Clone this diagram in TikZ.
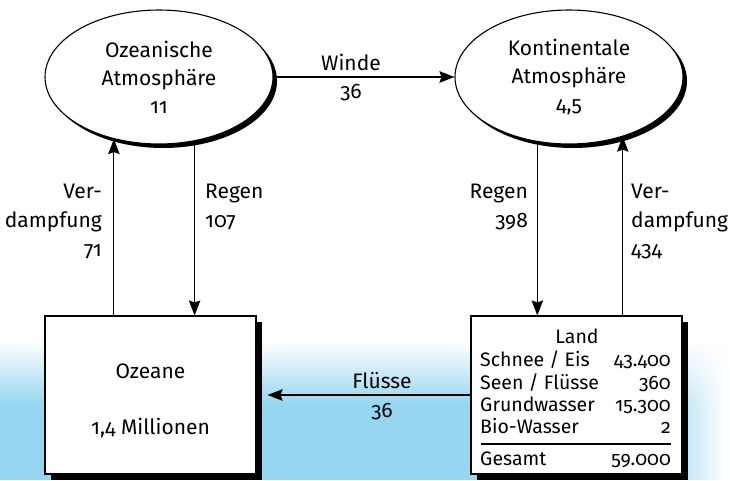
\documentclass[tikz,border=0pt]{standalone}
\usepackage{fontspec}
\setmainfont{Fira Sans}[Numbers=OldStyle]
\usetikzlibrary{shapes.geometric,shadows,arrows.meta,fadings,calc}
\definecolor{bl}{RGB}{150,214,240}
\tikzfading[name=fadeR, left color=transparent!100, right color=transparent!0]
\tikzset{
  arr/.style={-{Stealth[length=15pt,width=11.5pt,inset=2pt]}, line width=1.2pt},
  ell/.style={ellipse, draw, fill=white, line width=1.1pt, minimum width=228pt,
    minimum height=134pt, inner sep=0pt, align=center,
    font=\fontsize{21}{28}\selectfont,
    drop shadow={fill=black, opacity=1, shadow xshift=4pt, shadow yshift=-4pt}},
  bx/.style={rectangle, draw, fill=white, line width=1.1pt, minimum width=211pt,
    minimum height=158pt, inner sep=0pt, align=center,
    drop shadow={fill=black, opacity=1, shadow xshift=5.5pt, shadow yshift=-5.5pt}},
  txt/.style={inner sep=0pt},
  tb/.style={inner sep=0pt, font=\fontsize{19.5}{22}\selectfont},
}
\begin{document}
\begin{tikzpicture}[x=1pt, y=-1pt, font=\fontsize{21}{29}\selectfont]
\useasboundingbox (0,0) rectangle (730,480);
% background
\shade[top color=white, bottom color=bl] (0,340) rectangle (730,405);
\fill[bl] (0,405) rectangle (730,480);
\fill[white, path fading=fadeR] (655,340) rectangle (726,480);
\fill[white] (726,340) rectangle (730,480);

% main nodes
\node[ell] (oa) at (159,77) {Ozeanische\\Atmosphäre\\11};
\node[ell] (ka) at (569,77) {Kontinentale\\Atmosphäre\\4,5};
\node[bx] (oz) at (150.5,395) {\rule{0pt}{27pt}Ozeane\\[27pt]1,4 Millionen};
\node[bx] (land) at (576.5,395) {};

% connectors
\draw[arr] (oa.east) -- (ka.west);
\draw[arr] (oz.north -| oa.234) -- (oa.234);
\draw[arr] (oa.299) -- (oa.299 |- oz.north);
\draw[arr] (ka.244) -- (ka.244 |- land.north);
\draw[arr] (land.north -| ka.312) -- (ka.312);
\draw[arr] (land.west) -- ($(oz.east)+(11,0)$);

% labels (base anchor = last line)
\node[txt, anchor=base] (wl) at (351,70) {Winde};
\node[txt, anchor=base] (wn) at (351,98) {36};
\node[txt, anchor=base east, align=right] (lv) at (102,256) {Ver-\\dampfung\\71};
\node[txt, anchor=base west, align=left] (lr) at (205,227) {Regen\\107};
\node[txt, anchor=base east, align=right] (rr) at (528,227) {Regen\\398};
\node[txt, anchor=base west, align=left] (rv) at (631,256) {Ver-\\dampfung\\434};
\node[txt, anchor=base] (fl) at (382,388) {Flüsse};
\node[txt, anchor=base] (fn) at (382,417) {36};

% land table
\node[tb, anchor=base] (lt) at (577,343) {Land};
\node[tb, anchor=base west] (r1) at (480,366.5) {Schnee / Eis};
\node[tb, anchor=base east] (v1) at (671,366.5) {43.400};
\node[tb, anchor=base west] (r2) at (480,389) {Seen / Flüsse};
\node[tb, anchor=base east] (v2) at (671,389) {360};
\node[tb, anchor=base west] (r3) at (480,411) {Grundwasser};
\node[tb, anchor=base east] (v3) at (671,411) {15.300};
\node[tb, anchor=base west] (r4) at (480,433) {Bio-Wasser};
\node[tb, anchor=base east] (v4) at (671,433) {2};
\draw[line width=1.1pt] (481,444) -- (671,444);
\node[tb, anchor=base west] (r5) at (480,465) {Gesamt};
\node[tb, anchor=base east] (v5) at (671,465) {59.000};
\end{tikzpicture}
\end{document}
